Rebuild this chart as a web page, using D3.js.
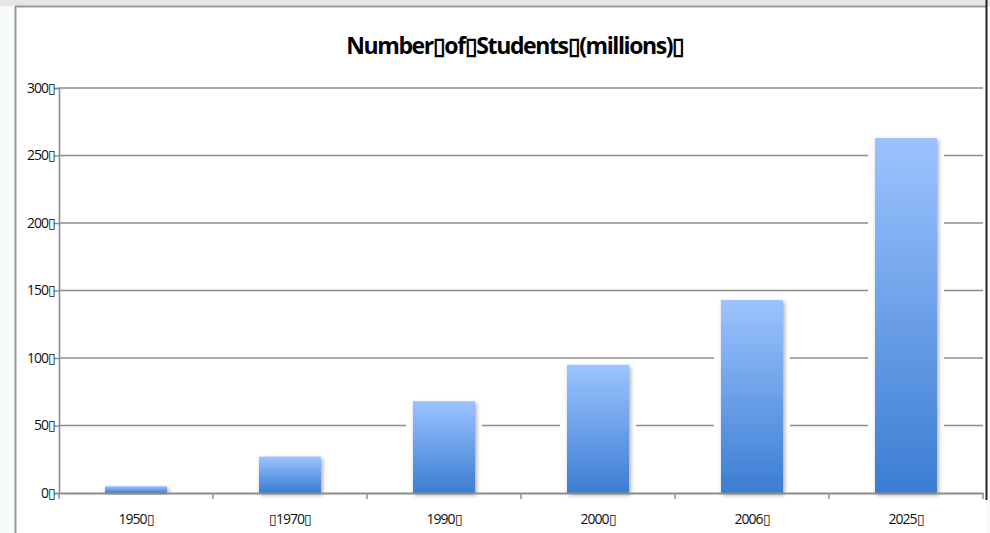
<!DOCTYPE html>
<html><head><meta charset="utf-8">
<script src="https://cdn.jsdelivr.net/npm/d3@7"></script>
<style>html,body{margin:0;padding:0;background:#fff;}</style>
</head><body>
<svg id="c" width="990" height="533"></svg>
<script>
const BOX = "\u25AF";
const categories = ["1950", "1970", "1990", "2000", "2006", "2025"];
const categoryLabels = ["1950" + BOX, BOX + "1970" + BOX, "1990" + BOX, "2000" + BOX, "2006" + BOX, "2025" + BOX];
const values = [5, 27, 68, 95, 143, 263];
const yTicks = [0, 50, 100, 150, 200, 250, 300];
const titleText = "Number" + BOX + "of" + BOX + "Students" + BOX + "(millions)" + BOX;

(function(){
const svg = d3.select("#c");
const defs = svg.append("defs");
const grad = defs.append("linearGradient").attr("id","bg").attr("x1",0).attr("y1",0).attr("x2",0).attr("y2",1);
grad.append("stop").attr("offset","0%").attr("stop-color","#9cc3ff");
grad.append("stop").attr("offset","100%").attr("stop-color","#3b7dd2");
const f = defs.append("filter").attr("id","sh").attr("x","-20%").attr("y","-20%").attr("width","140%").attr("height","140%");
f.append("feDropShadow").attr("dx",1.5).attr("dy",2).attr("stdDeviation",2).attr("flood-color","#000").attr("flood-opacity",0.35);

// outer frame
svg.append("rect").attr("x",0).attr("y",0).attr("width",990).attr("height",533).attr("fill","#f7fbfb");
svg.append("rect").attr("x",0).attr("y",0).attr("width",990).attr("height",6).attr("fill","#e6e6e6");
svg.append("rect").attr("x",16).attr("y",7).attr("width",970).attr("height",526).attr("fill","#fff");
svg.append("line").attr("x1",15).attr("x2",986).attr("y1",6.5).attr("y2",6.5).attr("stroke","#999").attr("stroke-width",2);
svg.append("line").attr("x1",15.5).attr("x2",15.5).attr("y1",6).attr("y2",533).attr("stroke","#999").attr("stroke-width",2);
svg.append("line").attr("x1",986.5).attr("x2",986.5).attr("y1",0).attr("y2",500).attr("stroke","#222").attr("stroke-width",2);

const mLeft = 59, mRight = 983, mTop = 88, mBottom = 493;
const x = d3.scaleBand().domain(categories).range([mLeft, mRight]).paddingInner(0).paddingOuter(0);
const y = d3.scaleLinear().domain([0, 300]).range([mBottom, mTop]);

// gridlines
svg.append("g").selectAll("line").data(yTicks.filter(t => t > 0)).join("line")
  .attr("x1", mLeft).attr("x2", mRight).attr("y1", d => y(d)).attr("y2", d => y(d))
  .attr("stroke","#8c8c8c").attr("stroke-width",1.6);

// y axis
const ya = svg.append("g").attr("transform", `translate(${mLeft},0)`)
  .call(d3.axisLeft(y).tickValues(yTicks).tickSize(5).tickFormat(d => d + BOX));
ya.select(".domain").attr("stroke","#8c8c8c").attr("stroke-width",1.6);
ya.selectAll(".tick line").attr("stroke","#8c8c8c").attr("stroke-width",1.4);
ya.selectAll("text").attr("font-family","'Open Sans', sans-serif").attr("font-size",14).attr("letter-spacing","-1").attr("fill","#111").attr("x",-4);

const bw = 62;
const bx = d => x(d) + x.bandwidth()/2 - bw/2;
// white halos
svg.append("g").selectAll("rect").data(categories).join("rect")
  .attr("x", d => bx(d) - 7).attr("width", bw + 14)
  .attr("y", (d,i) => y(values[i]) - 3).attr("height", (d,i) => mBottom - y(values[i]) + 1)
  .attr("fill","#fff");
// bars
svg.append("g").selectAll("rect").data(categories).join("rect")
  .attr("x", bx).attr("width", bw)
  .attr("y", (d,i) => y(values[i])).attr("height", (d,i) => mBottom - y(values[i]))
  .attr("fill","url(#bg)").attr("filter","url(#sh)");

// x axis
const xa = svg.append("g").attr("transform", `translate(0,${mBottom})`)
  .call(d3.axisBottom(x).tickSize(0).tickFormat((d,i) => categoryLabels[i]));
xa.select(".domain").attr("stroke","#8c8c8c").attr("stroke-width",1.8);
xa.selectAll("text").attr("font-family","'Open Sans', sans-serif").attr("font-size",14).attr("letter-spacing","-1").attr("fill","#111").attr("dy","0.71em").attr("y",21);
const bounds = categories.map(c => x(c)).concat([mRight]);
svg.append("g").selectAll("line").data(bounds).join("line")
  .attr("x1", d => d).attr("x2", d => d).attr("y1", mBottom).attr("y2", mBottom + 6)
  .attr("stroke","#8c8c8c").attr("stroke-width",1.4);

// title
svg.append("text").attr("x", 515).attr("y", 54).attr("text-anchor","middle")
  .attr("font-family","'Open Sans', sans-serif").attr("font-weight","bold").attr("font-size",23).attr("letter-spacing","-1.4")
  .attr("fill","#000").text(titleText);
})();
</script>
</body></html>
